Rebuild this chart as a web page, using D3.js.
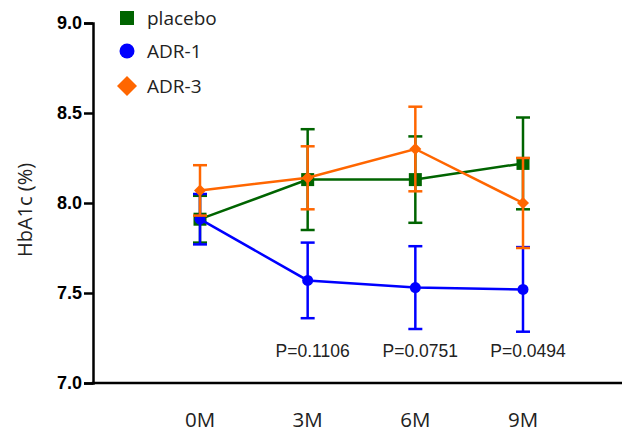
<!DOCTYPE html>
<html>
<head>
<meta charset="utf-8">
<script src="https://cdn.jsdelivr.net/npm/d3@7"></script>
<style>
  body { margin: 0; background: #fff; }
  svg { display: block; }
</style>
</head>
<body>
<div id="chart"></div>
<script>
// data
var months = ["0M", "3M", "6M", "9M"];
var placeboMean = [7.91, 8.13, 8.13, 8.22];
var placeboErr = [0.13, 0.28, 0.24, 0.255];
var adr1Mean = [7.91, 7.57, 7.53, 7.52];
var adr1Err = [0.14, 0.21, 0.23, 0.235];
var adr3Mean = [8.07, 8.14, 8.30, 8.00];
var adr3Err = [0.14, 0.175, 0.235, 0.25];
var pLabels = ["", "P=0.1106", "P=0.0751", "P=0.0494"];
var yTicks = [7.0, 7.5, 8.0, 8.5, 9.0];

var svgWidth = 624, svgHeight = 434;

var svg = d3.select("#chart").append("svg")
  .attr("width", svgWidth)
  .attr("height", svgHeight);

var xScale = d3.scaleLinear().domain([0, 3]).range([200, 523]);
var yScale = d3.scaleLinear().domain([7, 9]).range([383, 23]);

var axisLeft = 93, axisRight = 622;

// y axis
var yAxis = d3.axisLeft(yScale).tickValues(yTicks).tickFormat(d3.format(".1f")).tickSizeOuter(0).tickSize(9).tickPadding(2);
var gy = svg.append("g").attr("transform", `translate(${axisLeft},0)`).call(yAxis);
gy.select(".domain").attr("stroke", "#000").attr("stroke-width", 2.5);
gy.selectAll(".tick line").attr("stroke", "#000").attr("stroke-width", 2.5);
gy.selectAll(".tick text")
  .attr("font-family", "Liberation Sans, Arial, sans-serif")
  .attr("font-weight", "bold")
  .attr("font-size", 18)
  .attr("fill", "#000");

// x axis line (no ticks)
svg.append("line")
  .attr("x1", axisLeft - 1.25).attr("x2", axisRight)
  .attr("y1", yScale(7)).attr("y2", yScale(7))
  .attr("stroke", "#000").attr("stroke-width", 2.5);

svg.selectAll(".xlab")
  .data(months)
  .enter()
  .append("text")
  .attr("x", (d, i) => xScale(i))
  .attr("y", 427)
  .attr("text-anchor", "middle")
  .attr("font-family", "Open Sans, sans-serif")
  .attr("font-size", 20.5)
  .attr("fill", "#222")
  .text(d => d);

// y title
svg.append("text")
  .attr("transform", "translate(32,210) rotate(-90)")
  .attr("text-anchor", "middle")
  .attr("font-family", "Open Sans, sans-serif")
  .attr("font-size", 20)
  .attr("fill", "#222")
  .text("HbA1c (%)");

var series = [
  { name: "placebo", mean: placeboMean, err: placeboErr, color: "#006400", shape: "square" },
  { name: "ADR-1", mean: adr1Mean, err: adr1Err, color: "#0000FF", shape: "circle" },
  { name: "ADR-3", mean: adr3Mean, err: adr3Err, color: "#FF6600", shape: "diamond" }
];

function drawMarker(g, shape, color, size) {
  if (shape === "square") {
    g.append("rect").attr("x", -size / 2).attr("y", -size / 2)
      .attr("width", size).attr("height", size).attr("fill", color);
  } else if (shape === "circle") {
    g.append("circle").attr("r", size / 2).attr("fill", color);
  } else {
    var h = size / 2;
    g.append("path").attr("d", `M0,${-h}L${h},0L0,${h}L${-h},0Z`).attr("fill", color);
  }
}

var line = d3.line().x((d, i) => xScale(i)).y(d => yScale(d));

series.forEach(function(s) {
  var g = svg.append("g");
  // error bars
  s.mean.forEach(function(m, i) {
    var x = xScale(i);
    g.append("line")
      .attr("x1", x).attr("x2", x)
      .attr("y1", yScale(m + s.err[i])).attr("y2", yScale(m - s.err[i]))
      .attr("stroke", s.color).attr("stroke-width", 2.5);
    [m + s.err[i], m - s.err[i]].forEach(function(v) {
      g.append("line")
        .attr("x1", x - 7).attr("x2", x + 7)
        .attr("y1", yScale(v)).attr("y2", yScale(v))
        .attr("stroke", s.color).attr("stroke-width", 2.5);
    });
  });
  g.append("path")
    .datum(s.mean)
    .attr("d", line)
    .attr("fill", "none")
    .attr("stroke", s.color)
    .attr("stroke-width", 2.5);
  s.mean.forEach(function(m, i) {
    var mg = g.append("g").attr("transform", `translate(${xScale(i)},${yScale(m)})`);
    drawMarker(mg, s.shape, s.color, s.shape === "circle" ? 11 : (s.shape === "diamond" ? 12 : 13));
  });
});

// legend
var legendY = [18, 51, 86];
series.forEach(function(s, i) {
  var lg = svg.append("g").attr("transform", `translate(127,${legendY[i]})`);
  drawMarker(lg, s.shape, s.color, s.shape === "diamond" ? 20 : (s.shape === "circle" ? 15 : 14));
  svg.append("text")
    .attr("x", 147)
    .attr("y", legendY[i] + 6.5)
    .attr("font-family", "Open Sans, sans-serif")
    .attr("font-size", 19)
    .attr("fill", "#222")
    .text(s.name);
});

// p values
svg.selectAll(".plab")
  .data(pLabels)
  .enter()
  .append("text")
  .attr("x", (d, i) => xScale(i) + 5)
  .attr("y", 357)
  .attr("text-anchor", "middle")
  .attr("font-family", "Liberation Sans, Arial, sans-serif")
  .attr("font-size", 17.5)
  .attr("fill", "#222")
  .text(d => d);
</script>
</body>
</html>
